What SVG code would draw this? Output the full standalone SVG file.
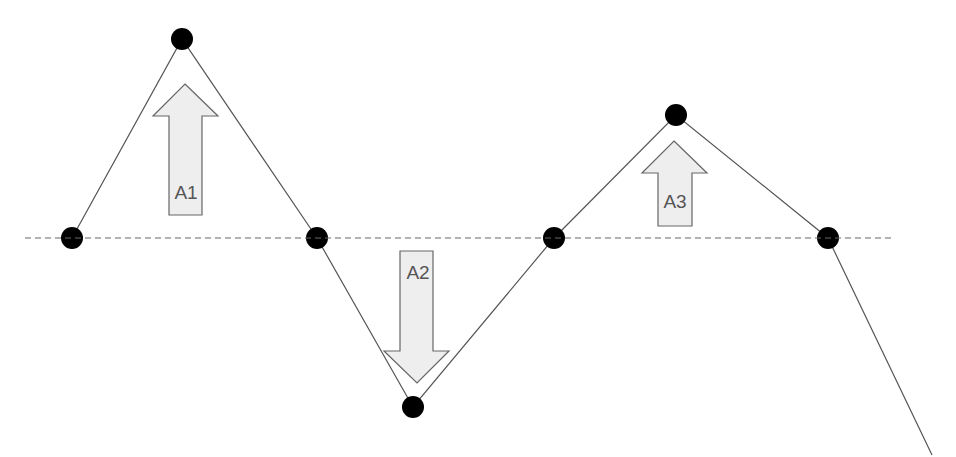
<svg xmlns="http://www.w3.org/2000/svg" width="956" height="457" viewBox="0 0 956 457">
<style>
.ln{fill:none;stroke:#555;stroke-width:1.2}
.dash{fill:none;stroke:#666;stroke-width:1.2;stroke-dasharray:6 4}
.dot{fill:#000}
.arr{fill:#eeeeee;stroke:#666;stroke-width:1.2}
.lbl{font-family:"Liberation Sans",Arial,sans-serif;font-size:19px;fill:#555;text-anchor:middle}
</style>
<rect width="956" height="457" fill="#fff"/>
<g id="connectors">
<polyline class="ln" points="72,238 182,39 317,238 413,407 554,238 676,115 828,238 932,455"/>
</g>
<g id="p1"><circle class="dot" cx="72" cy="238" r="11"/></g>
<g id="p2"><circle class="dot" cx="182" cy="39" r="11"/></g>
<g id="p3"><circle class="dot" cx="317" cy="238" r="11"/></g>
<g id="p4"><circle class="dot" cx="413" cy="407" r="11"/></g>
<g id="p5"><circle class="dot" cx="554" cy="238" r="11"/></g>
<g id="p6"><circle class="dot" cx="676" cy="115" r="11"/></g>
<g id="p7"><circle class="dot" cx="828" cy="238" r="11"/></g>
<g id="baseline"><line class="dash" x1="25" y1="238" x2="893" y2="238"/></g>
<g id="A1">
<polygon class="arr" points="185,84 218,116 202,116 202,215 169,215 169,116 153,116"/>
<text class="lbl" x="186" y="199">A1</text>
</g>
<g id="A2">
<polygon class="arr" points="400,251 433,251 433,351 449,351 417,383 384,351 400,351"/>
<text class="lbl" x="418" y="279">A2</text>
</g>
<g id="A3">
<polygon class="arr" points="674,141 707,173 692,173 692,226 658,226 658,173 642,173"/>
<text class="lbl" x="675" y="208">A3</text>
</g>
</svg>
